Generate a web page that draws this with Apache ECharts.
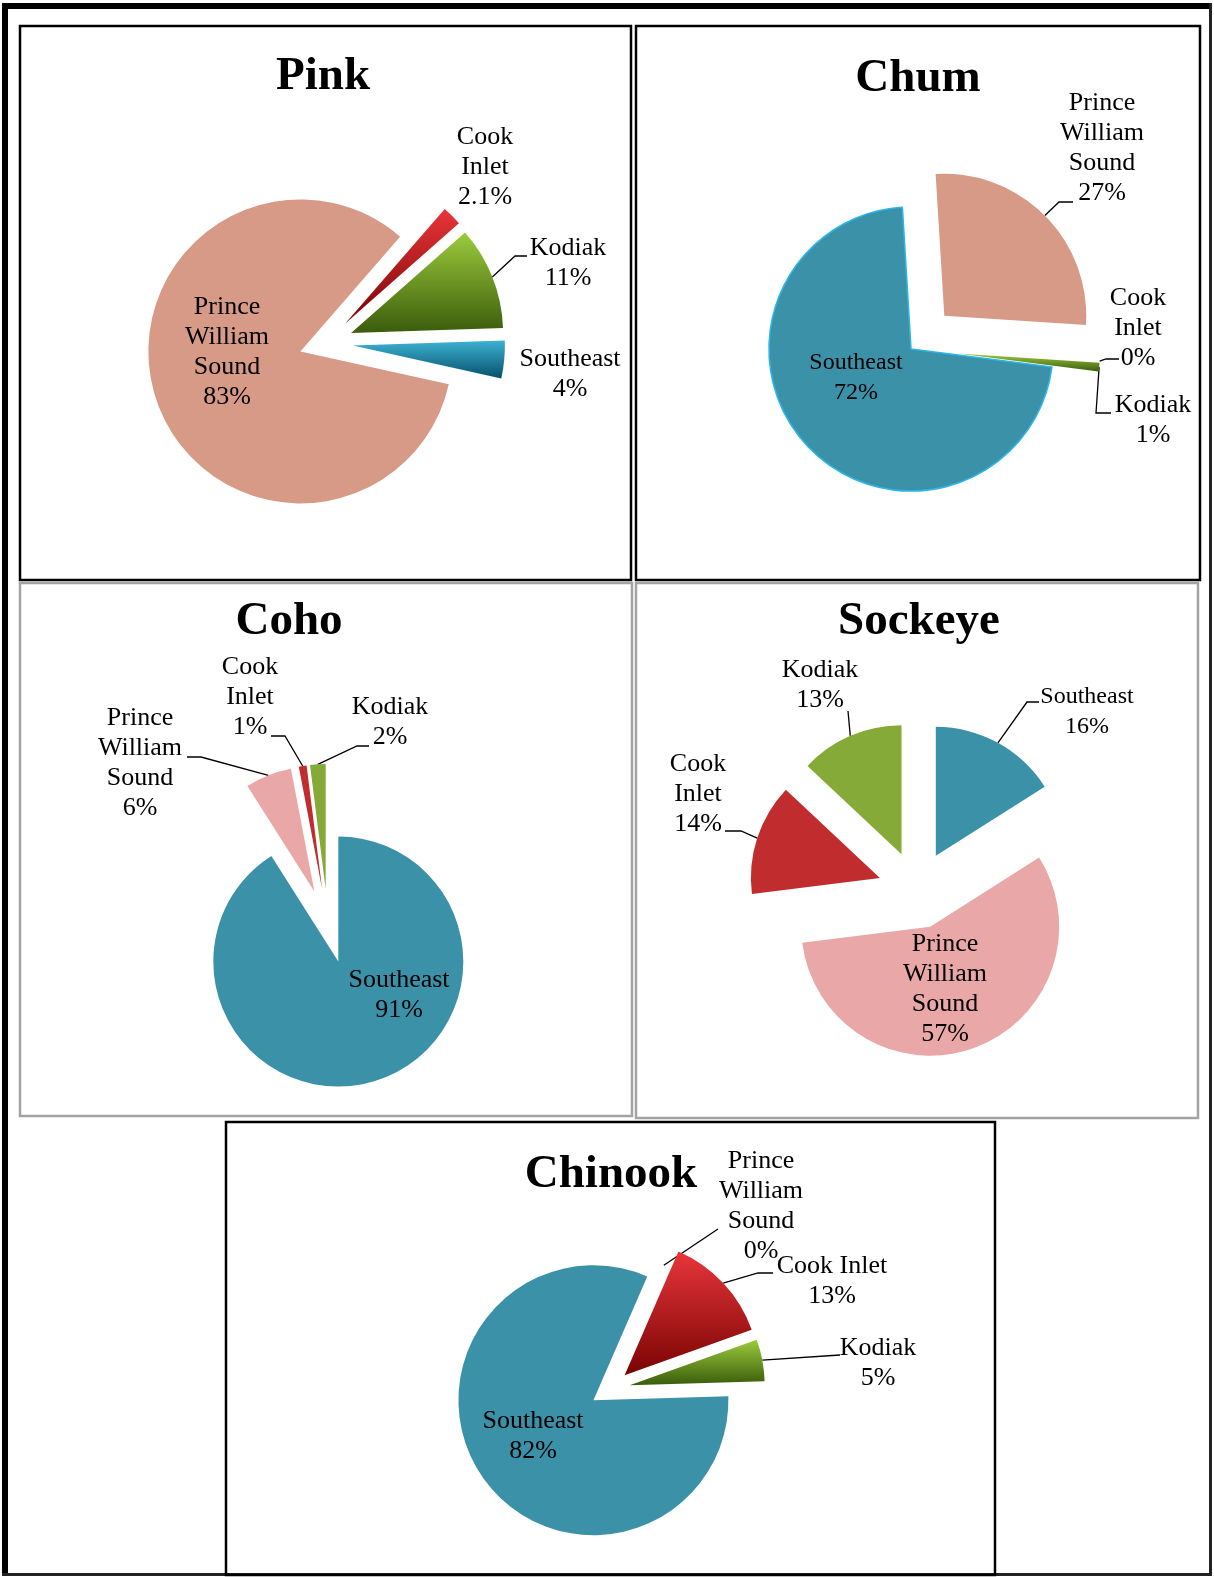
<!DOCTYPE html>
<html>
<head>
<meta charset="utf-8">
<title>Salmon harvest by region</title>
<script src="https://cdn.jsdelivr.net/npm/echarts@6/dist/echarts.min.js"></script>
<style>
  html, body { margin: 0; padding: 0; background: #fff; }
  #chart { width: 1214px; height: 1577px; }
</style>
</head>
<body>
<div id="chart"></div>
<script>
// Share of each species' harvest by region (percent)
const pinkRegions = ['Cook Inlet', 'Kodiak', 'Southeast', 'Prince William Sound'];
const pinkShare = [2.1, 11, 4, 83];

const chumRegions = ['Prince William Sound', 'Cook Inlet', 'Kodiak', 'Southeast'];
const chumShare = [27, 0, 1, 72];

const cohoRegions = ['Southeast', 'Prince William Sound', 'Cook Inlet', 'Kodiak'];
const cohoShare = [91, 6, 1, 2];

const sockeyeRegions = ['Southeast', 'Prince William Sound', 'Cook Inlet', 'Kodiak'];
const sockeyeShare = [16, 57, 14, 13];

const chinookRegions = ['Prince William Sound', 'Cook Inlet', 'Kodiak', 'Southeast'];
const chinookShare = [0, 13, 5, 82];

const speciesNames = ['Pink', 'Chum', 'Coho', 'Sockeye', 'Chinook'];

// ---- styling ----
const SERIF = '"Liberation Serif", "Times New Roman", serif';
const vGrad = (top, bottom) => ({
  type: 'linear', x: 0, y: 0, x2: 0, y2: 1,
  colorStops: [{ offset: 0, color: top }, { offset: 1, color: bottom }]
});
const RED_SHADE = vGrad('#e8363a', '#7a0303');
const GREEN_SHADE = vGrad('#9ccb3c', '#3a5c0c');
const BLUE_SHADE = vGrad('#3db2d4', '#07506a');
const TEAL = '#3a91a8';
const SALMON = '#d69a87';
const ROSE = '#eaa7a7';
const RED = '#c12c2e';
const OLIVE = '#86aa37';
const CLEAR = 'rgba(0,0,0,0)';

const WRAPPED = { 'Prince William Sound': 'Prince\nWilliam\nSound', 'Cook Inlet': 'Cook\nInlet' };

// ---- per-panel layout ----
// labelAt: centre of each label block; leaderTo: elbow and end of the leader line
// (the line starts on the slice's outer arc, as laid out by the pie series).
const panels = [
  {
    regions: pinkRegions, values: pinkShare,
    titleAt: [323, 77], center: [326, 343], radius: 152, startAngle: 49, offset: 27,
    colors: { 'Cook Inlet': RED_SHADE, 'Kodiak': GREEN_SHADE, 'Southeast': BLUE_SHADE, 'Prince William Sound': SALMON },
    labelAt: { 'Cook Inlet': [485, 167], 'Kodiak': [568, 263], 'Southeast': [570, 374], 'Prince William Sound': [227, 352] },
    leaderTo: { 'Kodiak': [[515, 256], [527, 256]] }
  },
  {
    regions: chumRegions, values: chumShare,
    titleAt: [918, 79], center: [911, 349], radius: 142, startAngle: 93.5, offset: 47,
    exploded: ['Prince William Sound', 'Cook Inlet', 'Kodiak'],
    colors: { 'Prince William Sound': SALMON, 'Cook Inlet': RED_SHADE, 'Kodiak': GREEN_SHADE, 'Southeast': TEAL },
    outline: { 'Southeast': '#2cb5e6' },
    small: ['Southeast'],
    labelAt: { 'Prince William Sound': [1102, 148], 'Cook Inlet': [1138, 328], 'Kodiak': [1153, 420], 'Southeast': [856, 378] },
    leaderTo: {
      'Prince William Sound': [[1059, 202], [1073, 202]],
      'Cook Inlet': [[1106, 359], [1119, 359]],
      'Kodiak': [[1096, 413], [1111, 413]]
    }
  },
  {
    regions: cohoRegions, values: cohoShare,
    titleAt: [289, 622], center: [328, 926], radius: 125, startAngle: 90, offset: 37,
    colors: { 'Southeast': TEAL, 'Prince William Sound': ROSE, 'Cook Inlet': RED, 'Kodiak': OLIVE },
    labelAt: { 'Prince William Sound': [140, 763], 'Cook Inlet': [250, 697], 'Kodiak': [390, 722], 'Southeast': [399, 995] },
    leaderTo: {
      'Prince William Sound': [[201, 757], [187, 757]],
      'Cook Inlet': [[285, 736], [271, 736]],
      'Kodiak': [[357, 746], [369, 746]]
    }
  },
  {
    regions: sockeyeRegions, values: sockeyeShare,
    titleAt: [919, 622], center: [917, 890], radius: 129, startAngle: 90, offset: 39,
    colors: { 'Southeast': TEAL, 'Prince William Sound': ROSE, 'Cook Inlet': RED, 'Kodiak': OLIVE },
    small: ['Southeast'],
    labelAt: { 'Kodiak': [820, 685], 'Southeast': [1087, 712], 'Cook Inlet': [698, 794], 'Prince William Sound': [945, 989] },
    leaderTo: {
      'Kodiak': [[848, 711], [848, 711]],
      'Southeast': [[1027, 702], [1039, 702]],
      'Cook Inlet': [[741, 831], [725, 831]]
    }
  },
  {
    regions: chinookRegions, values: chinookShare,
    titleAt: [611, 1175], center: [610, 1389], radius: 135, startAngle: 66.5, offset: 20,
    exploded: ['Cook Inlet', 'Kodiak', 'Southeast'],
    colors: { 'Prince William Sound': RED_SHADE, 'Cook Inlet': RED_SHADE, 'Kodiak': GREEN_SHADE, 'Southeast': TEAL },
    oneLine: ['Cook Inlet'],
    labelAt: { 'Prince William Sound': [761, 1206], 'Cook Inlet': [832, 1281], 'Kodiak': [878, 1363], 'Southeast': [533, 1436] },
    leaderTo: {
      'Prince William Sound': [[718, 1229], [718, 1229]],
      'Cook Inlet': [[758, 1273], [773, 1273]],
      'Kodiak': [[840, 1355], [840, 1355]]
    }
  }
];

// Panel frames: [x, y, w, h, colour]
const frames = [
  [20, 26, 611, 554, '#000'],
  [636, 26, 564, 554, '#000'],
  [20, 583, 612, 533, '#a3a3a3'],
  [636, 583, 562, 535, '#a3a3a3'],
  [226, 1122, 769, 453, '#000']
];

// One pie series per slice: every series lays out the full data set, shows only
// its own slice, and is pulled out from the shared centre along that slice's bisector.
function sliceSeries(p) {
  const total = p.values.reduce((a, b) => a + b, 0);
  const exploded = p.exploded || p.regions;
  let before = 0;
  return p.regions.map((region, k) => {
    const v = p.values[k];
    const mid = (90 - p.startAngle + (before + v / 2) / total * 360) * Math.PI / 180;
    before += v;
    const d = exploded.includes(region) ? p.offset : 0;
    const outline = p.outline && p.outline[region];
    const pos = p.labelAt[region];
    const leader = p.leaderTo[region];
    return {
      type: 'pie',
      center: [p.center[0] + d * Math.sin(mid), p.center[1] - d * Math.cos(mid)],
      radius: [0, p.radius],
      startAngle: p.startAngle,
      clockwise: true,
      avoidLabelOverlap: false,
      silent: true,
      animation: false,
      emphasis: { disabled: true },
      label: {
        fontFamily: SERIF, fontSize: 26, lineHeight: 30, color: '#000',
        formatter: (prm) => {
          const nm = (p.oneLine || []).includes(prm.name) ? prm.name : (WRAPPED[prm.name] || prm.name);
          return nm + '\n' + prm.value + '%';
        }
      },
      labelLine: { lineStyle: { color: '#000', width: 1.3 }, length: 10, length2: 12, smooth: false },
      labelLayout: (prm) => {
        if (prm.dataIndex !== k) return {};
        const out = { x: pos[0], y: pos[1], align: 'center', verticalAlign: 'middle' };
        if (leader && prm.labelLinePoints) {
          const start = prm.labelLinePoints[0];
          out.labelLinePoints = [[start[0], start[1]], leader[0].slice(), leader[1].slice()];
        }
        return out;
      },
      data: p.regions.map((r, i) => {
        const own = i === k;
        return {
          name: r,
          value: p.values[i],
          itemStyle: own
            ? { color: p.colors[r], borderColor: outline || CLEAR, borderWidth: outline ? 1.6 : 0 }
            : { color: CLEAR, borderColor: CLEAR, borderWidth: 0 },
          label: own
            ? { show: true, position: 'outside', fontSize: (p.small || []).includes(r) ? 24 : 26 }
            : { show: false },
          labelLine: { show: own && !!p.leaderTo[r] }
        };
      })
    };
  });
}

const graphics = [];
// outer page frame
graphics.push({ type: 'rect', shape: { x: 2, y: 3, width: 6, height: 1573 }, style: { fill: '#000' }, silent: true });
graphics.push({ type: 'rect', shape: { x: 2, y: 3, width: 1210, height: 6 }, style: { fill: '#000' }, silent: true });
graphics.push({ type: 'rect', shape: { x: 1209, y: 3, width: 3, height: 1573 }, style: { fill: '#222' }, silent: true });
graphics.push({ type: 'rect', shape: { x: 2, y: 1573, width: 1210, height: 3 }, style: { fill: '#222' }, silent: true });
frames.forEach(([x, y, w, h, c]) => {
  graphics.push({
    type: 'rect', shape: { x: x, y: y, width: w, height: h },
    style: { fill: 'none', stroke: c, lineWidth: 2.5 }, silent: true
  });
});
panels.forEach((p, i) => {
  graphics.push({
    type: 'text', x: p.titleAt[0], y: p.titleAt[1], silent: true,
    style: {
      text: speciesNames[i], fontFamily: SERIF, fontWeight: 'bold', fontSize: 47, fill: '#000',
      align: 'center', verticalAlign: 'middle', textAlign: 'center', textVerticalAlign: 'middle'
    }
  });
});

const series = [];
panels.forEach((p) => { series.push(...sliceSeries(p)); });

const chart = echarts.init(document.getElementById('chart'), null, { renderer: 'canvas', width: 1214, height: 1577 });
chart.setOption({
  animation: false,
  backgroundColor: '#fff',
  graphic: graphics,
  series: series
});
</script>
</body>
</html>
